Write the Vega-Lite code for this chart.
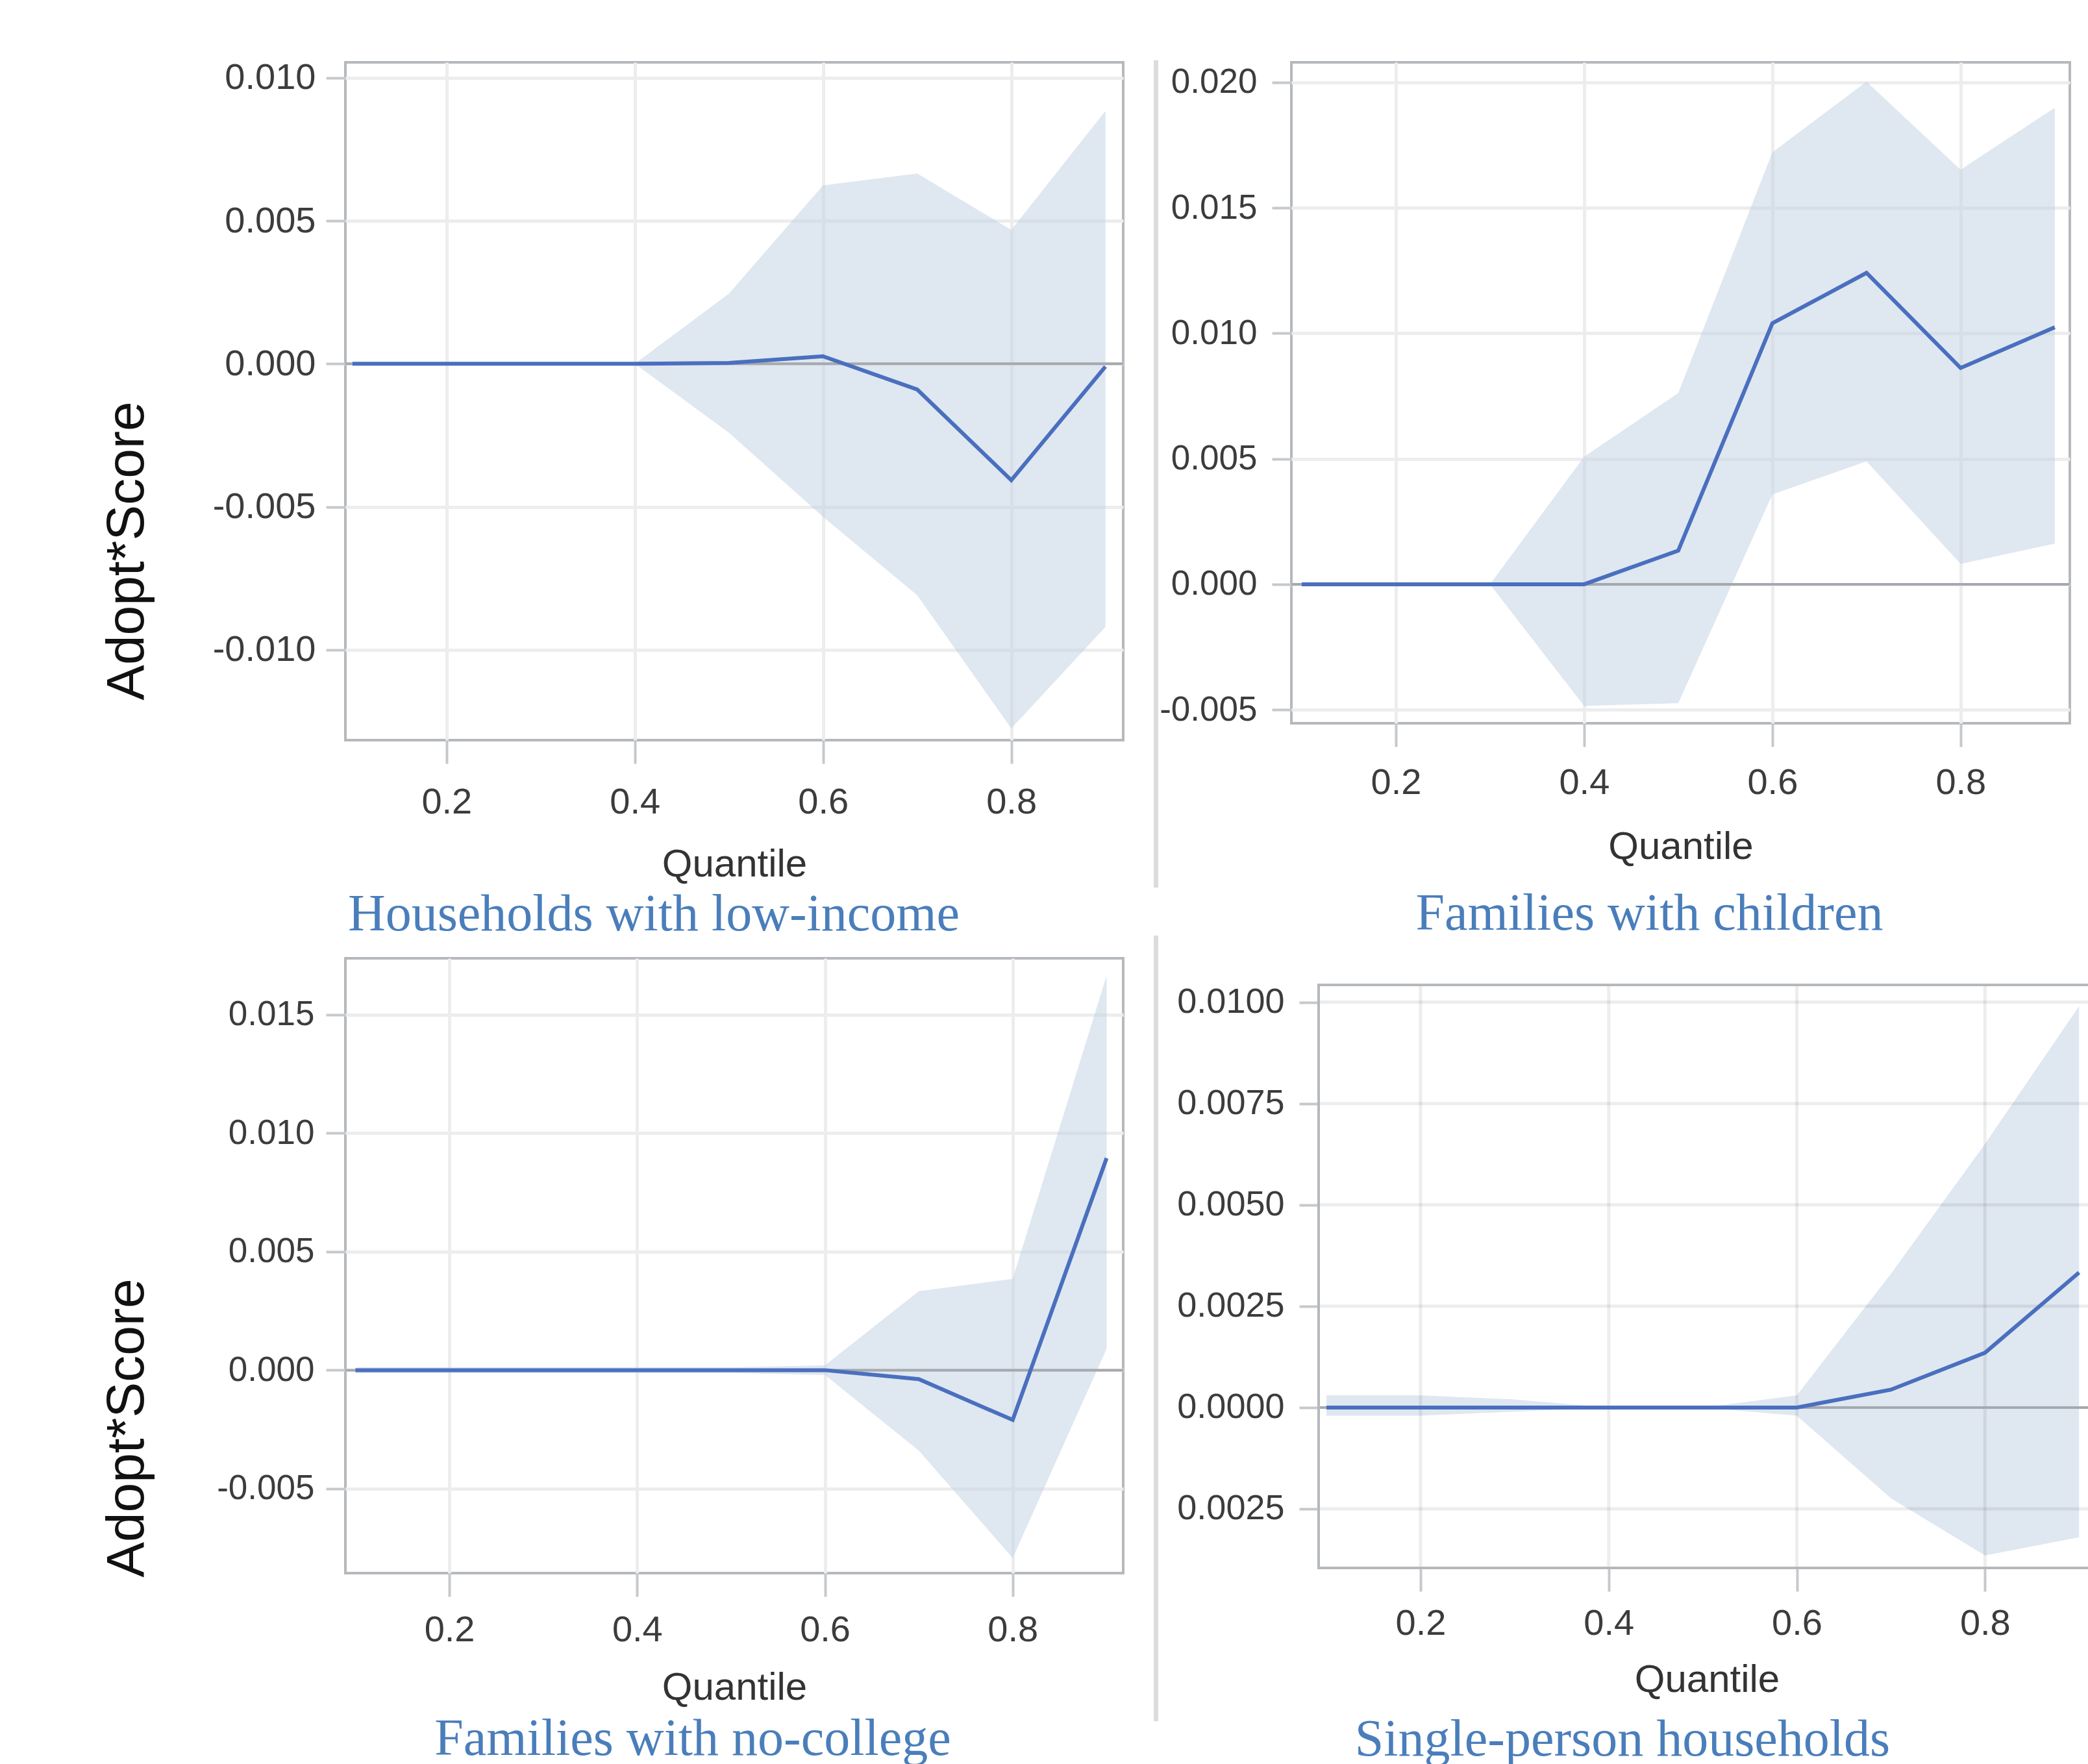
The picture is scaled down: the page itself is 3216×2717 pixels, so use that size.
{
  "$schema": "https://vega.github.io/schema/vega-lite/v6.json",
  "background": "white",
  "padding": {"left": 152, "top": 89, "right": 0, "bottom": 0},
  "columns": 4,
  "align": "each",
  "bounds": "flush",
  "spacing": {"row": 0, "column": 50},
  "concat": [
    {
      "width": 1198, "height": 1044,
      "view": {"stroke": "#b5b9bd", "strokeWidth": 4},
      "title": {"text": "Households with low-income", "orient": "bottom", "anchor": "middle", "frame": "group", "dx": -124, "offset": 9, "font": "Liberation Serif", "fontSize": 80, "fontWeight": "normal", "color": "#4a7ebb"},
      "data": {"values": [
        {"q": 0.1, "est": 0, "lo": 0, "hi": 0},
        {"q": 0.2, "est": 0, "lo": 0, "hi": 0},
        {"q": 0.3, "est": 0, "lo": 0, "hi": 0},
        {"q": 0.4, "est": 0, "lo": 0, "hi": 0},
        {"q": 0.5, "est": 0.00003, "lo": -0.00241, "hi": 0.00245},
        {"q": 0.6, "est": 0.00026, "lo": -0.00535, "hi": 0.00624},
        {"q": 0.7, "est": -0.0009, "lo": -0.00809, "hi": 0.00665},
        {"q": 0.8, "est": -0.00407, "lo": -0.01275, "hi": 0.00468},
        {"q": 0.9, "est": -0.0001, "lo": -0.0092, "hi": 0.00884}
      ]},
      "layer": [
        {
          "mark": {"type": "area", "color": "#bfcfe3", "opacity": 0.5},
          "encoding": {
            "x": {"field": "q", "type": "quantitative", "title": "Quantile", "scale": {"domain": [0.0925, 0.9189], "nice": false, "zero": false},
                  "axis": {"values": [0.2, 0.4, 0.6, 0.8], "format": ".1f", "labelPadding": 32, "titleFontSize": 60, "titlePadding": 39}},
            "y": {"field": "lo", "type": "quantitative", "title": "Adopt*Score", "scale": {"domain": [-0.01316, 0.01054], "nice": false, "zero": false},
                  "axis": {"values": [-0.01, -0.005, 0, 0.005, 0.01], "format": ".3f", "labelFontSize": 56, "labelPadding": 16, "titleFontSize": 82, "titleColor": "#111111", "titleAngle": -90, "titleX": -337, "titleY": 752, "titleAlign": "center", "titleBaseline": "middle"}},
            "y2": {"field": "hi"}
          }
        },
        {
          "data": {"values": [{"z": 0}]},
          "mark": {"type": "rule", "color": "#a5a9ad", "strokeWidth": 4},
          "encoding": {"y": {"datum": 0, "type": "quantitative"}}
        },
        {
          "mark": {"type": "line", "color": "#4a6fbe", "strokeWidth": 6},
          "encoding": {
            "x": {"field": "q", "type": "quantitative", "title": "Quantile"},
            "y": {"field": "est", "type": "quantitative", "title": "Adopt*Score", "scale": {"domain": [-0.01316, 0.01054], "nice": false, "zero": false}}
          }
        }
      ]
    },
    {"width": 1, "height": 1044, "view": {"stroke": "#dcdcdc", "strokeWidth": 6}, "data": {"values": [{"a": 1}]}, "mark": {"type": "point", "opacity": 0}},
    {"width": 108, "height": 1, "data": {"values": [{"a": 1}]}, "mark": {"type": "point", "opacity": 0}},
    {
      "width": 1199, "height": 1018,
      "view": {"stroke": "#b5b9bd", "strokeWidth": 4},
      "title": {"text": "Families with children", "orient": "bottom", "anchor": "middle", "frame": "group", "dx": -48, "offset": 35, "font": "Liberation Serif", "fontSize": 80, "fontWeight": "normal", "color": "#4a7ebb"},
      "data": {"values": [
        {"q": 0.1, "est": 0, "lo": 0, "hi": 0},
        {"q": 0.2, "est": 0, "lo": 0, "hi": 0},
        {"q": 0.3, "est": 0, "lo": 0, "hi": 0},
        {"q": 0.4, "est": 0, "lo": -0.00485, "hi": 0.00508},
        {"q": 0.5, "est": 0.00134, "lo": -0.00474, "hi": 0.00762},
        {"q": 0.6, "est": 0.0104, "lo": 0.00358, "hi": 0.01721},
        {"q": 0.7, "est": 0.01241, "lo": 0.0049, "hi": 0.02003},
        {"q": 0.8, "est": 0.00862, "lo": 0.00081, "hi": 0.01652},
        {"q": 0.9, "est": 0.01024, "lo": 0.00162, "hi": 0.01899}
      ]},
      "layer": [
        {
          "mark": {"type": "area", "color": "#bfcfe3", "opacity": 0.5},
          "encoding": {
            "x": {"field": "q", "type": "quantitative", "title": "Quantile", "scale": {"domain": [0.089, 0.916], "nice": false, "zero": false},
                  "axis": {"values": [0.2, 0.4, 0.6, 0.8], "format": ".1f", "labelPadding": 28, "titleFontSize": 60, "titlePadding": 42}},
            "y": {"field": "lo", "type": "quantitative", "title": null, "scale": {"domain": [-0.00554, 0.0208], "nice": false, "zero": false},
                  "axis": {"values": [-0.005, 0, 0.005, 0.01, 0.015, 0.02], "format": ".3f", "labelFontSize": 53, "labelPadding": 23}},
            "y2": {"field": "hi"}
          }
        },
        {
          "data": {"values": [{"z": 0}]},
          "mark": {"type": "rule", "color": "#a5a9ad", "strokeWidth": 4},
          "encoding": {"y": {"datum": 0, "type": "quantitative"}}
        },
        {
          "mark": {"type": "line", "color": "#4a6fbe", "strokeWidth": 6},
          "encoding": {
            "x": {"field": "q", "type": "quantitative", "title": "Quantile"},
            "y": {"field": "est", "type": "quantitative", "title": null, "scale": {"domain": [-0.00554, 0.0208], "nice": false, "zero": false}}
          }
        }
      ]
    },
    {"width": 1, "height": 1, "data": {"values": [{"a": 1}]}, "mark": {"type": "point", "opacity": 0}},
    {"width": 1, "height": 224, "view": {"stroke": "#dcdcdc", "strokeWidth": 6}, "data": {"values": [{"a": 1}]}, "mark": {"type": "point", "opacity": 0}},
    {"width": 1, "height": 1, "data": {"values": [{"a": 1}]}, "mark": {"type": "point", "opacity": 0}},
    {"width": 1, "height": 1, "data": {"values": [{"a": 1}]}, "mark": {"type": "point", "opacity": 0}},
    {"width": 1, "height": 80, "data": {"values": [{"a": 1}]}, "mark": {"type": "point", "opacity": 0}},
    {"width": 1, "height": 1, "data": {"values": [{"a": 1}]}, "mark": {"type": "point", "opacity": 0}},
    {"width": 1, "height": 1, "data": {"values": [{"a": 1}]}, "mark": {"type": "point", "opacity": 0}},
    {"width": 1, "height": 1, "data": {"values": [{"a": 1}]}, "mark": {"type": "point", "opacity": 0}},
    {"width": 1, "height": 1, "data": {"values": [{"a": 1}]}, "mark": {"type": "point", "opacity": 0}},
    {"width": 1, "height": 32, "view": {"stroke": "#dcdcdc", "strokeWidth": 6}, "data": {"values": [{"a": 1}]}, "mark": {"type": "point", "opacity": 0}},
    {"width": 1, "height": 1, "data": {"values": [{"a": 1}]}, "mark": {"type": "point", "opacity": 0}},
    {"width": 1, "height": 1, "data": {"values": [{"a": 1}]}, "mark": {"type": "point", "opacity": 0}},
    {
      "width": 1198, "height": 947,
      "view": {"stroke": "#b5b9bd", "strokeWidth": 4},
      "title": {"text": "Families with no-college", "orient": "bottom", "anchor": "middle", "frame": "group", "dx": -64, "offset": 11, "font": "Liberation Serif", "fontSize": 80, "fontWeight": "normal", "color": "#4a7ebb"},
      "data": {"values": [
        {"q": 0.1, "est": 0, "lo": -0.00012, "hi": 0.00012},
        {"q": 0.2, "est": 0, "lo": -0.00012, "hi": 0.00012},
        {"q": 0.3, "est": 0, "lo": -0.00012, "hi": 0.00012},
        {"q": 0.4, "est": 0, "lo": -0.00012, "hi": 0.00012},
        {"q": 0.5, "est": 0, "lo": -0.00012, "hi": 0.00012},
        {"q": 0.6, "est": 0, "lo": -0.0002, "hi": 0.0002},
        {"q": 0.7, "est": -0.00038, "lo": -0.00339, "hi": 0.00333},
        {"q": 0.8, "est": -0.0021, "lo": -0.00792, "hi": 0.00385},
        {"q": 0.9, "est": 0.00894, "lo": 0.0009, "hi": 0.01663}
      ]},
      "layer": [
        {
          "mark": {"type": "area", "color": "#bfcfe3", "opacity": 0.5},
          "encoding": {
            "x": {"field": "q", "type": "quantitative", "title": "Quantile", "scale": {"domain": [0.0893, 0.9177], "nice": false, "zero": false},
                  "axis": {"values": [0.2, 0.4, 0.6, 0.8], "format": ".1f", "labelPadding": 24, "titleFontSize": 60, "titlePadding": 32}},
            "y": {"field": "lo", "type": "quantitative", "title": "Adopt*Score", "scale": {"domain": [-0.00856, 0.01737], "nice": false, "zero": false},
                  "axis": {"values": [-0.005, 0, 0.005, 0.01, 0.015], "format": ".3f", "labelFontSize": 53, "labelPadding": 18, "titleFontSize": 82, "titleColor": "#111111", "titleAngle": -90, "titleX": -337, "titleY": 723, "titleAlign": "center", "titleBaseline": "middle"}},
            "y2": {"field": "hi"}
          }
        },
        {
          "data": {"values": [{"z": 0}]},
          "mark": {"type": "rule", "color": "#a5a9ad", "strokeWidth": 4},
          "encoding": {"y": {"datum": 0, "type": "quantitative"}}
        },
        {
          "mark": {"type": "line", "color": "#4a6fbe", "strokeWidth": 6},
          "encoding": {
            "x": {"field": "q", "type": "quantitative", "title": "Quantile"},
            "y": {"field": "est", "type": "quantitative", "title": "Adopt*Score", "scale": {"domain": [-0.00856, 0.01737], "nice": false, "zero": false}}
          }
        }
      ]
    },
    {"width": 1, "height": 1172, "view": {"stroke": "#dcdcdc", "strokeWidth": 6}, "data": {"values": [{"a": 1}]}, "mark": {"type": "point", "opacity": 0}},
    {"width": 1, "height": 1, "data": {"values": [{"a": 1}]}, "mark": {"type": "point", "opacity": 0}},
    {
      "width": 1238, "height": 939,
      "view": {"stroke": null},
      "title": {"text": "Single-person households", "orient": "bottom", "anchor": "middle", "frame": "group", "dx": -109, "offset": 24, "font": "Liberation Serif", "fontSize": 80, "fontWeight": "normal", "color": "#4a7ebb"},
      "data": {"values": [
        {"q": 0.1, "est": 0, "lo": -0.0002, "hi": 0.0003},
        {"q": 0.2, "est": 0, "lo": -0.0002, "hi": 0.0003},
        {"q": 0.3, "est": 0, "lo": -0.0001, "hi": 0.0002},
        {"q": 0.4, "est": 0, "lo": 0, "hi": 0},
        {"q": 0.5, "est": 0, "lo": 0, "hi": 0},
        {"q": 0.6, "est": 0, "lo": -0.0002, "hi": 0.0003},
        {"q": 0.7, "est": 0.00044, "lo": -0.00224, "hi": 0.0033},
        {"q": 0.8, "est": 0.00135, "lo": -0.00365, "hi": 0.0065},
        {"q": 0.9, "est": 0.00333, "lo": -0.0032, "hi": 0.0099}
      ]},
      "layer": [
        {
          "mark": {"type": "area", "color": "#bfcfe3", "opacity": 0.5},
          "encoding": {
            "x": {"field": "q", "type": "quantitative", "title": "Quantile", "scale": {"domain": [0.0627, 0.9171], "nice": false, "zero": false},
                  "axis": {"values": [0.2, 0.4, 0.6, 0.8], "format": ".1f", "grid": false, "labelPadding": 22, "titleFontSize": 60, "titlePadding": 30, "titleX": 640, "titleAlign": "center"}},
            "y": {"field": "lo", "type": "quantitative", "title": null, "scale": {"domain": [-0.003958, 0.011083], "nice": false, "zero": false},
                  "axis": {"values": [-0.0025, 0, 0.0025, 0.005, 0.0075, 0.01], "labelExpr": "format(abs(datum.value), '.4f')", "grid": false, "offset": -42, "labelFontSize": 54, "labelPadding": 23}},
            "y2": {"field": "hi"}
          }
        },
        {
          "data": {"values": [{"g": -0.0025}, {"g": 0.0025}, {"g": 0.005}, {"g": 0.0075}, {"g": 0.01}]},
          "mark": {"type": "rule", "color": "#000000", "opacity": 0.07, "strokeWidth": 5},
          "encoding": {
            "y": {"field": "g", "type": "quantitative", "title": null},
            "x": {"datum": 0.0917, "type": "quantitative"},
            "x2": {"datum": 0.9171}
          }
        },
        {
          "data": {"values": [{"g": 0.2}, {"g": 0.4}, {"g": 0.6}, {"g": 0.8}]},
          "mark": {"type": "rule", "color": "#000000", "opacity": 0.07, "strokeWidth": 5},
          "encoding": {
            "x": {"field": "g", "type": "quantitative", "title": "Quantile"},
            "y": {"datum": -0.003958, "type": "quantitative"},
            "y2": {"datum": 0.010426}
          }
        },
        {
          "data": {"values": [{"z": 0}]},
          "mark": {"type": "rule", "color": "#a5a9ad", "strokeWidth": 4},
          "encoding": {
            "y": {"datum": 0, "type": "quantitative"},
            "x": {"datum": 0.0917, "type": "quantitative"},
            "x2": {"datum": 0.9171}
          }
        },
        {
          "mark": {"type": "line", "color": "#4a6fbe", "strokeWidth": 6},
          "encoding": {
            "x": {"field": "q", "type": "quantitative", "title": "Quantile"},
            "y": {"field": "est", "type": "quantitative", "title": null, "scale": {"domain": [-0.003958, 0.011083], "nice": false, "zero": false}}
          }
        },
        {
          "data": {"values": [{"z": 0}]},
          "mark": {"type": "rect", "fillOpacity": 0, "stroke": "#b5b9bd", "strokeWidth": 4},
          "encoding": {
            "x": {"datum": 0.0917, "type": "quantitative"},
            "x2": {"datum": 0.9171},
            "y": {"datum": -0.003958, "type": "quantitative"},
            "y2": {"datum": 0.010426}
          }
        }
      ]
    }
  ],
  "config": {
    "view": {"stroke": null},
    "font": "Liberation Sans",
    "locale": {"number": {"decimal": ".", "thousands": ",", "grouping": [3], "currency": ["$", ""], "minus": "-"}},
    "axis": {
      "labelFont": "Liberation Sans", "labelFontSize": 56, "labelColor": "#3c3c3c",
      "titleFont": "Liberation Sans", "titleFontWeight": "normal", "titleColor": "#333333",
      "tickColor": "#c6c9cc", "tickWidth": 4,
      "grid": true, "gridColor": "#ededed", "gridWidth": 5,
      "domain": false, "labelFlush": false, "labelOverlap": false
    },
    "axisY": {"tickSize": 30, "labelPadding": 14},
    "axisX": {"tickSize": 36}
  }
}
